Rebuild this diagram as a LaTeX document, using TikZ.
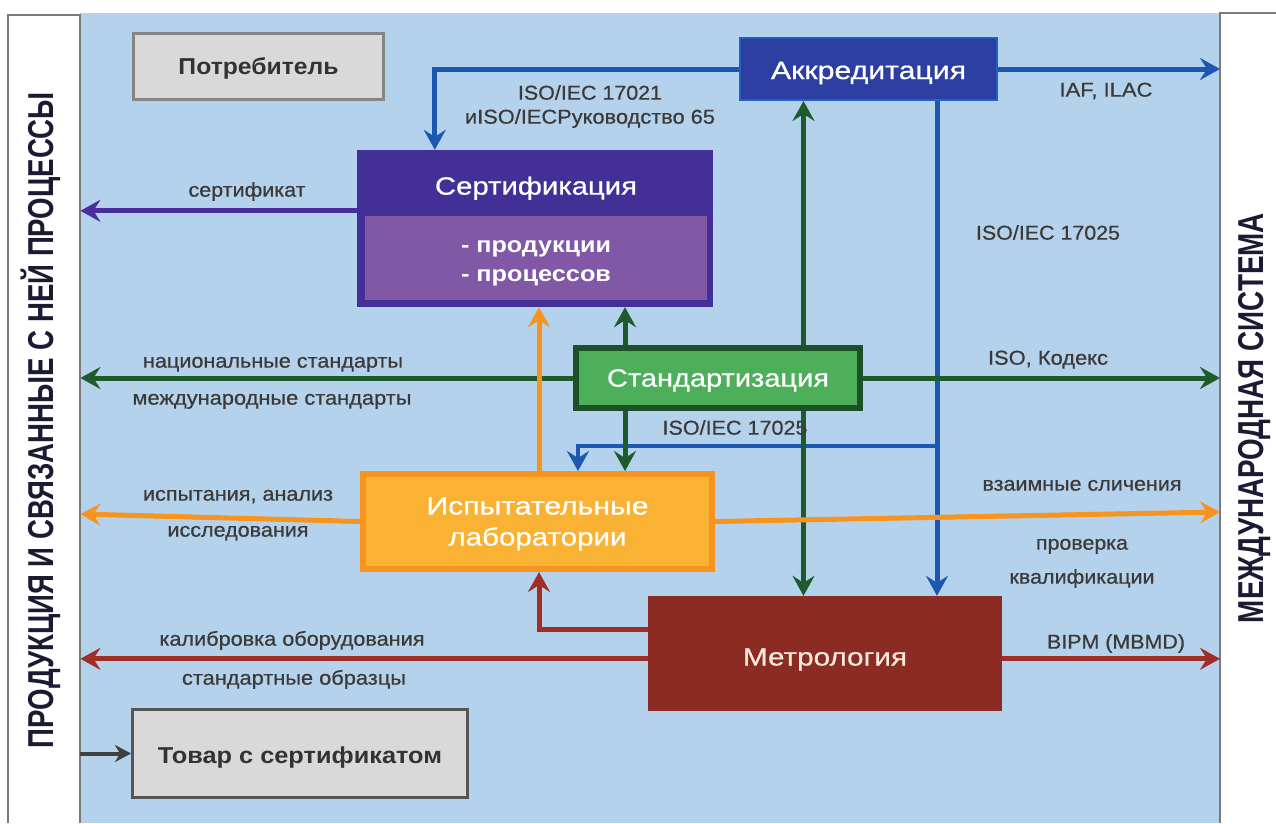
\documentclass[tikz,border=0pt]{standalone}
\usepackage{fontspec}
\usepackage{graphicx}
\setmainfont{Liberation Sans}
\newfontfamily\medfont{Liberation Sans}[FakeBold=0.6]
\usetikzlibrary{arrows.meta,calc}

% scale a text horizontally to a given width, keeping its height
\newcommand\hfit[2]{\resizebox{#1pt}{\height}{#2}}
% lower the ink of a text without changing the box used for centring
\newcommand\dropit[2]{\raisebox{-#1pt}[\height][\depth]{#2}}

\definecolor{bgblue}{HTML}{B4D2EB}
\definecolor{panelb}{HTML}{7A7A7A}
\definecolor{titlec}{HTML}{1A1A33}
\definecolor{labelc}{HTML}{3C3A38}
\definecolor{grayf}{HTML}{D9D9D9}
\definecolor{grayt}{HTML}{333333}
\definecolor{potrb}{HTML}{858585}
\definecolor{tovb}{HTML}{555555}
\definecolor{akkf}{HTML}{2C3EA0}
\definecolor{akkb}{HTML}{2062C4}
\definecolor{bluec}{HTML}{1C58B2}
\definecolor{certh}{HTML}{433096}
\definecolor{certb}{HTML}{8058A6}
\definecolor{purplec}{HTML}{4A2EA0}
\definecolor{greend}{HTML}{1C5028}
\definecolor{greenf}{HTML}{4DAF5A}
\definecolor{greenc}{HTML}{1E5A2C}
\definecolor{orangec}{HTML}{F7941E}
\definecolor{labf}{HTML}{F9B233}
\definecolor{metf}{HTML}{8C2A24}
\definecolor{mett}{HTML}{F6EBD9}
\definecolor{redc}{HTML}{A02D26}
\definecolor{grayarrow}{HTML}{404040}

\pgfdeclarelayer{back}
\pgfdeclarelayer{lines}
\pgfsetlayers{back,lines,main}

\tikzset{
  tip/.tip={Stealth[length=20pt,width=22pt,inset=7pt]},
  conn/.style={line width=5pt, -tip},
  conntwo/.style={line width=5pt, tip-tip},
  lbl/.style={text=labelc, font=\medfont\fontsize{20}{24}\selectfont, inner sep=0pt, anchor=mid},
  boxtxt/.style={text=white, font=\medfont\fontsize{25}{31}\selectfont, inner sep=0pt, align=center},
  graybox/.style={fill=grayf, text=grayt, font=\bfseries\fontsize{23}{28}\selectfont, inner sep=0pt},
  panel/.style={fill=white, inner sep=0pt},
  paneledge/.style={draw=panelb, line width=2pt},
  sidetitle/.style={rotate=90, anchor=base, text=titlec,
    font=\bfseries\fontsize{36}{40}\selectfont, inner sep=0pt},
}

\begin{document}
\begin{tikzpicture}[x=1pt,y=-1pt]
\useasboundingbox (0,0) rectangle (1276,823);

% background and side panels
\begin{pgfonlayer}{back}
  \fill[white] (0,0) rectangle (1276,823);
  \fill[bgblue] (80,13) rectangle (1220,823);
  \node[panel, anchor=north west, minimum width=72pt, minimum height=808pt] (lpanel) at (8,15) {};
  \node[panel, anchor=north west, minimum width=56pt, minimum height=810pt] (rpanel) at (1220,13) {};
  \draw[paneledge] (lpanel.south west) |- (lpanel.north east) -- (lpanel.south east);
  \draw[paneledge] (rpanel.south west) |- (rpanel.north east);
\end{pgfonlayer}

\node[sidetitle] (ltitle) at (53,420) {\hfit{656}{ПРОДУКЦИЯ И СВЯЗАННЫЕ С НЕЙ ПРОЦЕССЫ}};
\node[sidetitle] (rtitle) at (1263,418) {\hfit{410}{МЕЖДУНАРОДНАЯ СИСТЕМА}};

% boxes
\node[graybox, draw=potrb, line width=3pt, minimum width=250pt, minimum height=66pt]
  (potr) at (258.5,66.5) {\dropit{2}{\hfit{160}{Потребитель}}};
\node[boxtxt, draw=akkb, line width=2pt, fill=akkf, minimum width=257pt, minimum height=62pt]
  (akk) at (868.5,69) {\dropit{4}{\hfit{195}{Аккредитация}}};

\node[fill=certh, minimum width=356pt, minimum height=157pt, inner sep=0pt] (cert) at (535,228.5) {};
\node[boxtxt, anchor=mid] (certt) at (536,192) {\hfit{202}{Сертификация}};
\node[fill=certb, minimum width=342pt, minimum height=84pt, inner sep=0pt, text=white,
  font=\bfseries\fontsize{22}{29}\selectfont, align=left]
  (certbody) at (536,258) {\dropit{5}{\hfit{150}{- продукции}}\\\dropit{5}{\hfit{150}{- процессов}}};

\node[boxtxt, draw=greend, line width=6pt, fill=greenf, minimum width=284pt, minimum height=60pt]
  (std) at (718,378) {\dropit{2.5}{\hfit{222}{Стандартизация}}};
\node[boxtxt, draw=orangec, line width=6pt, fill=labf, minimum width=349pt, minimum height=95pt]
  (lab) at (537.5,521.5) {\dropit{2.5}{\hfit{222}{Испытательные}}\\\dropit{2.5}{\hfit{178}{лаборатории}}};
\node[boxtxt, text=mett, fill=metf, minimum width=354pt, minimum height=115pt]
  (met) at (825,653.5) {\dropit{6}{\hfit{164}{Метрология}}};
\node[graybox, draw=tovb, line width=3pt, minimum width=335pt, minimum height=88pt]
  (tovar) at (300,753.5) {\dropit{4}{\hfit{284}{Товар с сертификатом}}};

% connectors
\begin{pgfonlayer}{lines}
  % accreditation
  \draw[conn, bluec] (akk.west) -| ($(cert.north west)+(78,0)$);
  \draw[conn, bluec] (akk.east) -- (akk.east -| rpanel.west);
  \coordinate (bv) at ($(akk.south)+(68.5,0)$);
  \draw[conn, bluec] (bv) -- (bv |- met.north);
  \coordinate (bj) at ($(bv)+(0,345)$);
  \draw[conn, bluec, line width=4.5pt] (bj) -| ($(lab.north west)+(218,0)$);
  \coordinate (gv) at ($(akk.south)+(-65,0)$);
  \draw[conntwo, greenc] (gv) -- (gv |- met.north);
  % standardization
  \draw[conn, greenc] (std.west) -- (std.west -| lpanel.east);
  \draw[conn, greenc] (std.east) -- (std.east -| rpanel.west);
  \coordinate (gs) at ($(std.north)+(-93,0)$);
  \draw[conn, greenc] (gs) -- (gs |- cert.south);
  \coordinate (gb) at ($(std.south)+(-93,0)$);
  \draw[conn, greenc] (gb) -- (gb |- lab.north);
  % certification
  \coordinate (pc) at ($(cert.north west)+(0,61)$);
  \draw[conn, purplec] (pc) -- (pc -| lpanel.east);
  % testing laboratories
  \coordinate (ou) at ($(lab.north)+(1.5,0)$);
  \draw[conn, orangec] (ou) -- (ou |- cert.south);
  \draw[conn, orangec] (lab.west) -- (lpanel.east |- 0,514);
  \draw[conn, orangec] (lab.east) -- (rpanel.west |- 0,512);
  % metrology
  \coordinate (rm) at ($(met.north west)+(0,34)$);
  \draw[conn, redc] (rm) -| ($(lab.south)+(1.5,0)$);
  \coordinate (rl) at ($(met.north west)+(0,63)$);
  \draw[conn, redc] (rl) -- (rl -| lpanel.east);
  \coordinate (rr) at ($(met.north east)+(0,63)$);
  \draw[conn, redc] (rr) -- (rr -| rpanel.west);
  % certified goods
  \draw[grayarrow, line width=4pt, -{Stealth[length=16pt,width=17pt,inset=5pt]}]
    (tovar.west -| lpanel.east) -- (tovar.west);
\end{pgfonlayer}

% connector labels
\node[lbl] (l1)  at (247,194) {\hfit{117}{сертификат}};
\node[lbl] (l2)  at (590,97)  {\hfit{144}{ISO/IEC 17021}};
\node[lbl] (l3)  at (590,121) {\hfit{250}{иISO/IECРуководство 65}};
\node[lbl] (l4)  at (1106,94) {\hfit{93}{IAF, ILAC}};
\node[lbl] (l5)  at (1048,237) {\hfit{144}{ISO/IEC 17025}};
\node[lbl] (l6)  at (273,365) {\hfit{260}{национальные стандарты}};
\node[lbl] (l7)  at (272,402) {\hfit{279}{международные стандарты}};
\node[lbl] (l8)  at (1048,362) {\hfit{120}{ISO, Кодекс}};
\node[lbl] (l9)  at (735,432) {\hfit{145}{ISO/IEC 17025}};
\node[lbl] (l10) at (238,498) {\hfit{190}{испытания, анализ}};
\node[lbl] (l11) at (238,534) {\hfit{141}{исследования}};
\node[lbl] (l12) at (1082,488) {\hfit{199}{взаимные сличения}};
\node[lbl] (l13) at (1082,547) {\hfit{92}{проверка}};
\node[lbl] (l14) at (1082,581) {\hfit{145}{квалификации}};
\node[lbl] (l15) at (292,643) {\hfit{265}{калибровка оборудования}};
\node[lbl] (l16) at (294,682) {\hfit{224}{стандартные образцы}};
\node[lbl] (l17) at (1116,646) {\hfit{138}{BIPM (MBMD)}};
\end{tikzpicture}
\end{document}
